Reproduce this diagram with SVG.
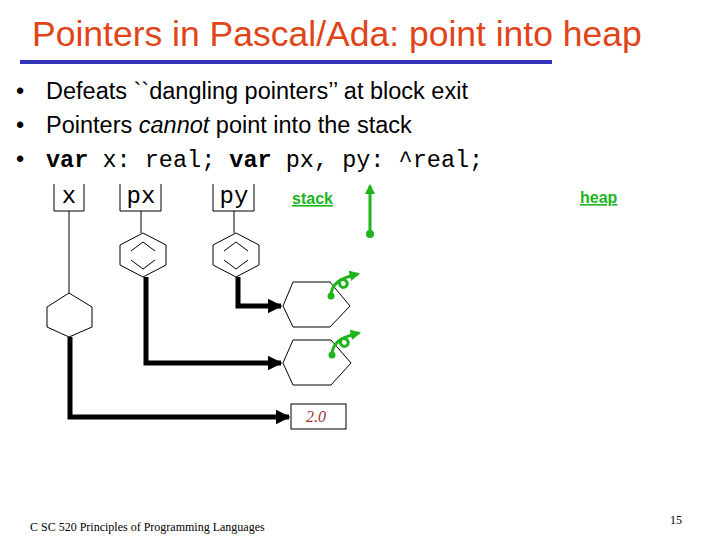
<svg xmlns="http://www.w3.org/2000/svg" width="720" height="540" viewBox="0 0 720 540">
<defs>
<marker id="ah" viewBox="0 0 10 10" refX="9" refY="5" markerWidth="3" markerHeight="3" orient="auto"><path d="M0,0L10,5L0,10z" fill="#000"/></marker>
<marker id="gh" viewBox="0 0 10 10" refX="8" refY="5" markerWidth="3.5" markerHeight="3.5" orient="auto"><path d="M0,0L10,5L0,10z" fill="#1cb51c"/></marker>
</defs>
<style>
.s{font-family:"Liberation Sans",Arial,sans-serif}
.m{font-family:"Liberation Mono","Courier New",monospace}
.h{fill:#fff;stroke:#000;stroke-width:1}
.c{fill:none;stroke:#000;stroke-width:5}
.g{fill:none;stroke:#1cb51c;stroke-width:3}
.t{fill:none;stroke:#000;stroke-width:1}
</style>
<rect width="720" height="540" fill="#fff"/>
<text x="32" y="46" class="s" font-size="35.5" fill="#e04418">Pointers in Pascal/Ada: point into heap</text>
<line x1="20" y1="62" x2="552" y2="62" stroke="#3333bb" stroke-width="4"/>
<g class="s" font-size="23.5">
<text x="16" y="99">•</text><text x="46" y="99">Defeats ``dangling pointers’’ at block exit</text>
<text x="16" y="133">•</text><text x="46" y="133">Pointers <tspan font-style="italic">cannot</tspan> point into the stack</text>
<text x="16" y="167">•</text>
</g>
<text x="46" y="167" class="m" font-size="23.5"><tspan font-weight="bold">var</tspan> x: real; <tspan font-weight="bold">var</tspan> px, py: ^real;</text>
<g id="x"><path class="t" d="M54,184V211H84V184"/><text x="69" y="203" class="m" font-size="24" text-anchor="middle">x</text><line class="t" x1="69" y1="211" x2="69" y2="293"/><path class="h" d="M69,293L92,307V327L69,337L47,327V307z"/></g>
<g id="px"><path class="t" d="M120,184V211H161V184"/><text x="141" y="203" class="m" font-size="24" text-anchor="middle">px</text><line class="t" x1="141" y1="211" x2="141" y2="233"/><path class="h" d="M143,233L166,245V265L143,277L120,265V245z"/><path class="t" stroke-width="2.5" d="M131,251L143,242L155,251M131,260L143,269L155,260"/></g>
<g id="py"><path class="t" d="M213,184V211H254V184"/><text x="234" y="203" class="m" font-size="24" text-anchor="middle">py</text><line class="t" x1="234" y1="211" x2="234" y2="233"/><path class="h" d="M236,233L259,245V265L236,277L213,265V245z"/><path class="t" stroke-width="2.5" d="M224,251L236,242L248,251M224,260L236,269L248,260"/></g>
<g id="stack"><text x="292" y="204" class="s" font-size="16" font-weight="bold" fill="#1cb51c" text-decoration="underline">stack</text><line class="g" x1="370" y1="234" x2="370" y2="186" marker-end="url(#gh)"/><circle cx="370" cy="234" r="4" fill="#1cb51c"/></g>
<g id="heap"><text x="580" y="203" class="s" font-size="16" font-weight="bold" fill="#1cb51c" text-decoration="underline">heap</text></g>
<g id="h1"><path class="h" d="M293,282H330L350,306L330,327H293L283,306z"/><path class="g" d="M331,296C331,284 340,278 358,274" marker-end="url(#gh)"/><path class="g" d="M340,280c6,-2 10,4 5,7c-4,2-7-3-5-7"/><circle cx="331" cy="296" r="3.5" fill="#1cb51c"/></g>
<g id="h2"><path class="h" d="M293,340H331L351,363L331,385H293L283,363z"/><path class="g" d="M332,355C332,343 341,337 359,333" marker-end="url(#gh)"/><path class="g" d="M341,339c6,-2 10,4 5,7c-4,2-7-3-5-7"/><circle cx="332" cy="355" r="3.5" fill="#1cb51c"/></g>
<g id="val"><rect x="291" y="404" width="55" height="25" class="h"/><text x="316" y="422" font-family="Liberation Serif,serif" font-style="italic" font-size="16" fill="#a03030" text-anchor="middle">2.0</text></g>
<g id="connectors">
<path class="c" d="M238,277V306H281" marker-end="url(#ah)"/>
<path class="c" d="M146,277V363H281" marker-end="url(#ah)"/>
<path class="c" d="M70,337V417H289" marker-end="url(#ah)"/>
</g>
<text x="30" y="531" font-family="Liberation Serif,serif" font-size="12">C SC 520 Principles of Programming Languages</text>
<text x="670" y="524" font-family="Liberation Serif,serif" font-size="12">15</text>
</svg>
